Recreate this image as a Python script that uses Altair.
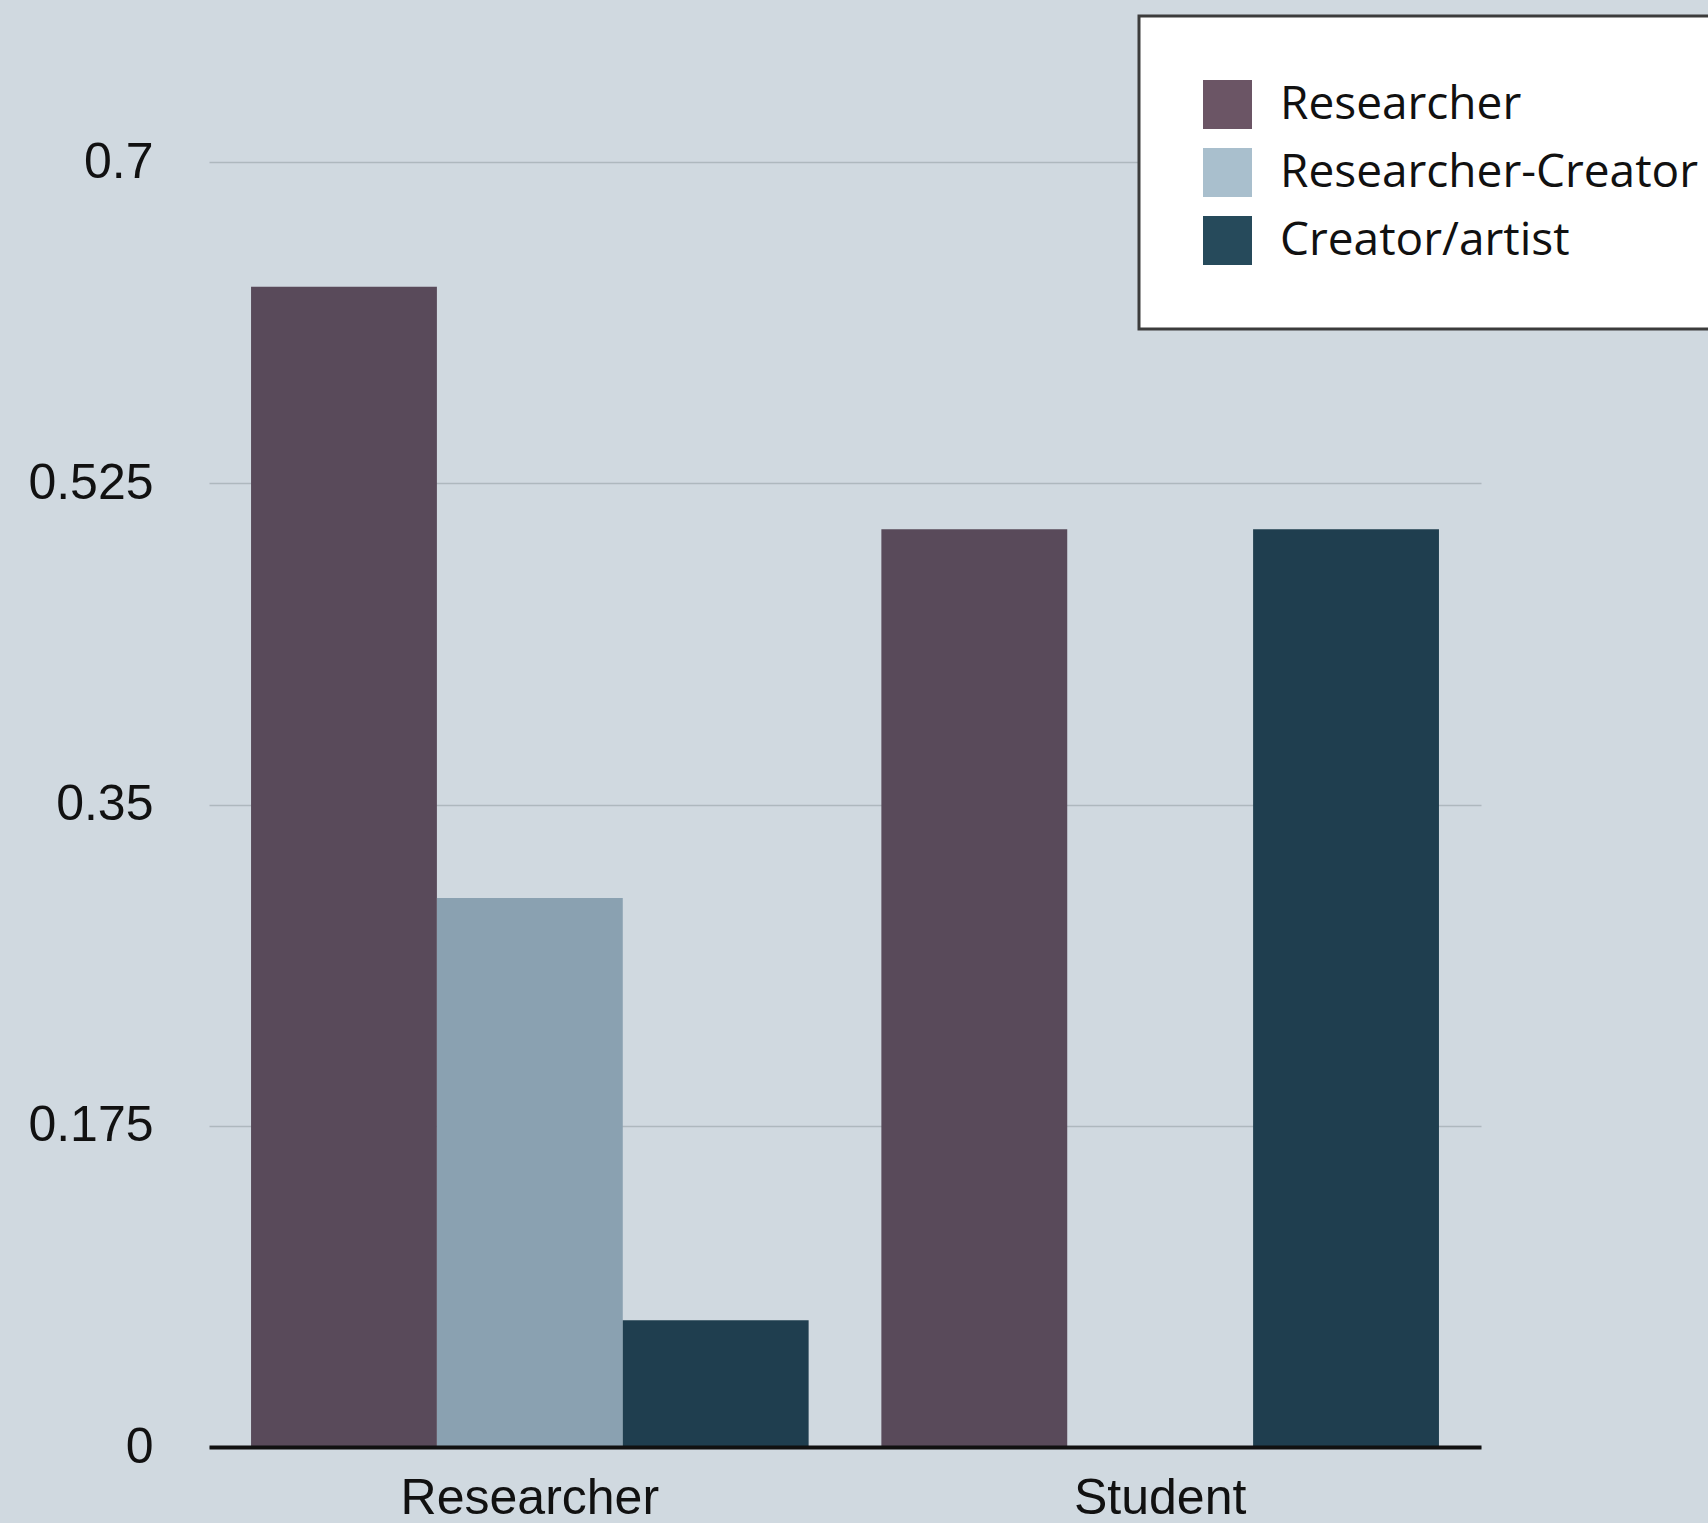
import altair as alt
import pandas as pd

categories = ["Researcher", "Student"]
roles = ["Researcher", "Researcher-Creator", "Creator/artist"]
researcher_vals = [0.632, 0.299, 0.069]
student_vals = [0.5, 0.0, 0.5]
y_ticks = [0, 0.175, 0.35, 0.525, 0.7]

bar_colors = ["#594a5a", "#8aa1b1", "#1f3e4f"]
legend_colors = ["#6b5565", "#a9bfcd", "#264a5b"]

rows = []
for cat, vals in zip(categories, [researcher_vals, student_vals]):
    for r, v in zip(roles, vals):
        rows.append({"category": cat, "role": r, "value": v})
df = pd.DataFrame(rows)

x_enc = alt.X(
    "category:N",
    sort=categories,
    scale=alt.Scale(paddingInner=0.1154, paddingOuter=0.0667),
    axis=alt.Axis(
        title=None, labelAngle=0, ticks=False, domain=True, domainColor="#111111",
        domainWidth=4, labelFont="Liberation Sans", labelFontSize=50,
        labelColor="#111111", labelPadding=26, grid=False, zindex=1,
        labelLimit=1000,
    ),
)
y_enc = alt.Y(
    "value:Q",
    scale=alt.Scale(domain=[0, 0.7], nice=False),
    axis=alt.Axis(
        title=None, values=y_ticks, format=".3~g", ticks=False, domain=False,
        labelFont="Liberation Sans", labelFontSize=50, labelColor="#111111",
        labelPadding=56, grid=True, gridColor="#aeb8be", gridWidth=1.5,
    ),
)
xoff = alt.XOffset("role:N", sort=roles, scale=alt.Scale(paddingInner=0, paddingOuter=0))

bars = alt.Chart(df).mark_bar().encode(
    x=x_enc,
    y=y_enc,
    xOffset=xoff,
    color=alt.Color("role:N", sort=roles,
                    scale=alt.Scale(domain=roles, range=bar_colors), legend=None),
)

legend_layer = alt.Chart(df).mark_bar(opacity=0).encode(
    x=alt.X("category:N", sort=categories),
    y=alt.Y("value:Q"),
    xOffset=xoff,
    color=alt.Color(
        "role:N", sort=roles,
        scale=alt.Scale(domain=roles, range=legend_colors),
        legend=alt.Legend(
            title=None, orient="none", legendX=930, legendY=-146,
            direction="vertical", padding=64, fillColor="#ffffff",
            strokeColor="#3c3c3c", symbolType="square", symbolSize=2401,
            symbolStrokeWidth=0, symbolOpacity=1, labelFont="Open Sans",
            labelFontSize=46, labelColor="#111111", labelOffset=28,
            rowPadding=19, labelLimit=1000,
        ),
    ),
)

chart = (
    alt.layer(bars, legend_layer)
    .resolve_scale(color="independent")
    .properties(
        width=1272, height=1285,
        autosize=alt.AutoSizeParams(type="none"),
        padding={"left": 209, "top": 162, "right": 227, "bottom": 76},
        background="#d0d9e0",
    )
    .configure_view(stroke=None)
    .configure_legend(strokeWidth=3)
)

chart.save("out.html", embed_options={"renderer": "svg", "actions": False})
